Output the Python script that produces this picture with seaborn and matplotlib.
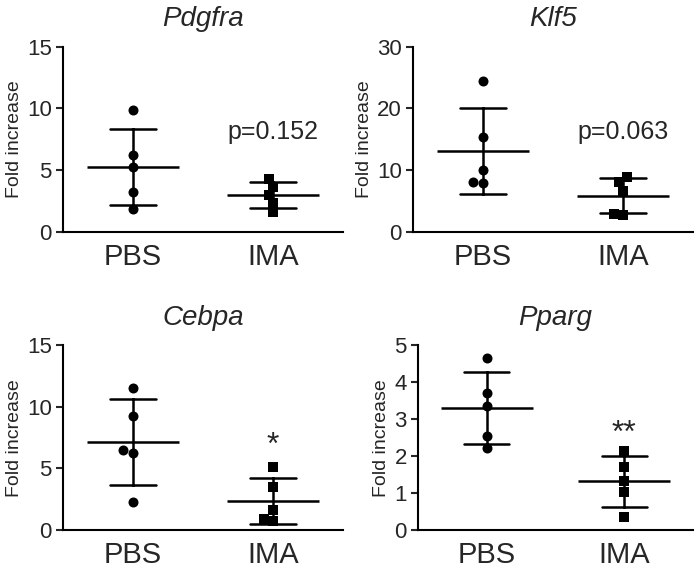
import matplotlib
matplotlib.use("Agg")
import matplotlib.pyplot as plt
import pandas as pd
import seaborn as sns

sns.set_theme(style="ticks")
plt.rcParams["font.family"] = ["Liberation Sans", "DejaVu Sans"]

groups = ["PBS", "IMA"]

# values (5 mice per group)
pdgfra_pbs = [9.9, 6.2, 5.25, 3.2, 1.85]
pdgfra_ima = [4.3, 3.65, 3.0, 2.35, 1.6]
klf5_pbs = [24.4, 15.45, 9.95, 8.0, 7.9]
klf5_ima = [8.85, 8.0, 6.65, 2.75, 2.9]
cebpa_pbs = [11.55, 9.3, 6.5, 6.25, 2.25]
cebpa_ima = [5.1, 3.5, 1.65, 0.75, 0.85]
pparg_pbs = [4.67, 3.7, 3.37, 2.54, 2.22]
pparg_ima = [2.15, 1.7, 1.32, 1.04, 0.35]

genes = ["Pdgfra", "Klf5", "Cebpa", "Pparg"]
y_max = [15, 30, 15, 5]
y_step = [5, 10, 5, 1]
labels = ["p=0.152", "p=0.063", "*", "**"]
label_y = [7.5, 15.0, 6.2, 2.38]
label_size = [18, 18, 23, 23]

panel_data = [(pdgfra_pbs, pdgfra_ima), (klf5_pbs, klf5_ima),
              (cebpa_pbs, cebpa_ima), (pparg_pbs, pparg_ima)]

# axes boxes [left, bottom, width, height] in figure fractions
boxes = [[0.090, 0.594, 0.400, 0.324],
         [0.590, 0.594, 0.400, 0.324],
         [0.090, 0.072, 0.400, 0.323],
         [0.597, 0.072, 0.393, 0.323]]

fig = plt.figure(figsize=(7, 5.71), dpi=100)

for i, gene in enumerate(genes):
    ax = fig.add_axes(boxes[i])
    pbs, ima = panel_data[i]
    df = pd.DataFrame({"group": ["PBS"] * len(pbs) + ["IMA"] * len(ima),
                       "value": pbs + ima})

    sns.swarmplot(data=df[df["group"] == "PBS"], x="group", y="value", order=groups,
                  marker="o", size=7.2, color="black", ax=ax)
    sns.swarmplot(data=df[df["group"] == "IMA"], x="group", y="value", order=groups,
                  marker="s", size=6.5, color="black", ax=ax)
    sns.pointplot(data=df, x="group", y="value", order=groups, errorbar="sd",
                  capsize=0.33, color="black", markers="_", markersize=66,
                  markeredgewidth=1.8, linestyle="none",
                  err_kws={"linewidth": 1.8}, ax=ax)

    ax.text(1, label_y[i], labels[i], ha="center", va="baseline", fontsize=label_size[i])

    ax.set_xlim(-0.5, 1.5)
    ax.set_ylim(0, y_max[i])
    ax.set_yticks(range(0, y_max[i] + 1, y_step[i]))
    ax.set_xlabel("")
    ax.set_ylabel("Fold increase", fontsize=14, labelpad=3)
    ax.set_title(gene, fontsize=20, style="italic", pad=15)
    ax.tick_params(axis="y", labelsize=16, length=5, width=1.5, pad=3)
    ax.tick_params(axis="x", labelsize=21, length=0, pad=8)
    for s in ["left", "bottom"]:
        ax.spines[s].set_linewidth(1.5)
        ax.spines[s].set_color("black")
    sns.despine(ax=ax)

fig.savefig("out.png", dpi=100)
